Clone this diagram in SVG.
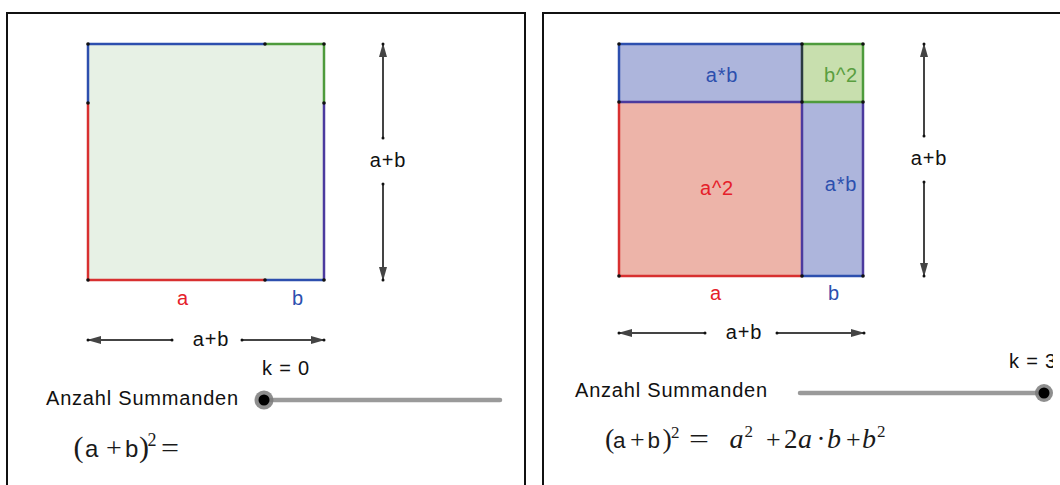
<svg xmlns="http://www.w3.org/2000/svg" width="1060" height="485" viewBox="0 0 1060 485">
  <style>
    .panel { fill: none; stroke: #111; stroke-width: 2; }
    .edge { fill: none; stroke-width: 2.5; stroke-linecap: butt; }
    .red { stroke: #d83030; }
    .blue { stroke: #2d4fae; }
    .green { stroke: #4e9b3c; }
    .purple { stroke: #4b3a9e; }
    .dark { stroke: #2a3a40; }
    .dot { fill: #111; }
    .lbl { font-family: "Liberation Sans", Arial, sans-serif; font-size: 20px; letter-spacing: 0.8px; }
    .mid { text-anchor: middle; }
    .tred { fill: #e5202a; }
    .tblue { fill: #2c4fae; }
    .tgreen { fill: #5a9e40; }
    .tblack { fill: #111; }
    .arr { stroke: #444; stroke-width: 2; fill: none; marker-end: url(#head); }
    .slider { stroke: #9a9a9a; stroke-width: 4.5; stroke-linecap: round; }
    .knobo { fill: #7a7a7a; opacity: 0.85; }
    .knobi { fill: #000; }
    .ser { font-family: "Liberation Serif", "Times New Roman", serif; fill: #1a1a1a; }
    .san { font-family: "Liberation Sans", Arial, sans-serif; fill: #1a1a1a; }
    .it { font-style: italic; }
  </style>
  <defs>
    <marker id="head" viewBox="0 0 14 8" refX="13" refY="4" markerWidth="14" markerHeight="8" markerUnits="userSpaceOnUse" orient="auto">
      <path d="M0,0 L14,4 L0,8 z" fill="#444"/>
    </marker>
    <clipPath id="clipR"><rect x="0" y="0" width="1053" height="485"/></clipPath>
  </defs>

  <rect width="1060" height="485" fill="#fff"/>

  <!-- LEFT PANEL -->
  <g id="left-panel">
    <rect class="panel" x="7" y="13" width="518" height="490"/>
  </g>
  <g id="left-square">
    <rect x="88" y="44" width="236" height="236" fill="#e7f1e5"/>
    <line class="edge blue" x1="88" y1="44" x2="265" y2="44"/>
    <line class="edge green" x1="265" y1="44" x2="324" y2="44"/>
    <line class="edge blue" x1="88" y1="44" x2="88" y2="103"/>
    <line class="edge red" x1="88" y1="103" x2="88" y2="280"/>
    <line class="edge green" x1="324" y1="44" x2="324" y2="103"/>
    <line class="edge purple" x1="324" y1="103" x2="324" y2="280"/>
    <line class="edge red" x1="88" y1="280" x2="265" y2="280"/>
    <line class="edge blue" x1="265" y1="280" x2="324" y2="280"/>
    <circle class="dot" cx="88" cy="44" r="1.8"/>
    <circle class="dot" cx="265" cy="44" r="1.8"/>
    <circle class="dot" cx="324" cy="44" r="1.8"/>
    <circle class="dot" cx="88" cy="103" r="1.8"/>
    <circle class="dot" cx="324" cy="103" r="1.8"/>
    <circle class="dot" cx="88" cy="280" r="1.8"/>
    <circle class="dot" cx="265" cy="280" r="1.8"/>
    <circle class="dot" cx="324" cy="280" r="1.8"/>
  </g>
  <g id="left-labels">
    <text class="lbl mid tred" x="183" y="305">a</text>
    <text class="lbl mid tblue" x="298" y="305">b</text>
    <text class="lbl mid tblack" x="388" y="167">a+b</text>
    <text class="lbl mid tblack" x="211" y="346">a+b</text>
    <text class="lbl mid tblack" x="286" y="375">k = 0</text>
    <text class="lbl tblack" x="46" y="405">Anzahl Summanden</text>
  </g>
  <g id="left-slider">
    <line class="slider" x1="264" y1="400" x2="500" y2="400"/>
    <circle class="knobo" cx="264" cy="400" r="9.5"/>
    <circle class="knobi" cx="264" cy="400" r="5.5"/>
  </g>
  <g id="left-formula">
    <text class="ser" x="73.5" y="457" font-size="30">(</text>
    <text class="san" x="85" y="457" font-size="24">a</text>
    <text class="ser" x="106" y="457" font-size="28">+</text>
    <text class="san" x="125" y="457" font-size="24">b</text>
    <text class="ser" x="139" y="457" font-size="30">)</text>
    <text class="ser" x="147.5" y="446" font-size="18">2</text>
    <text class="ser" x="161" y="457" font-size="28" textLength="18" lengthAdjust="spacingAndGlyphs">=</text>
  </g>

  <!-- RIGHT PANEL -->
  <g id="right-panel">
    <rect class="panel" x="543" y="13" width="530" height="490"/>
  </g>
  <g id="right-square">
    <rect x="619" y="102" width="183" height="174" fill="#edb4a9"/>
    <rect x="619" y="44" width="183" height="58" fill="#adb5dc"/>
    <rect x="802" y="44" width="61" height="58" fill="#c8dfae"/>
    <rect x="802" y="102" width="61" height="174" fill="#adb5dc"/>
    <line class="edge blue" x1="619" y1="44" x2="802" y2="44"/>
    <line class="edge green" x1="802" y1="44" x2="863" y2="44"/>
    <line class="edge blue" x1="619" y1="44" x2="619" y2="102"/>
    <line class="edge red" x1="619" y1="102" x2="619" y2="276"/>
    <line class="edge green" x1="863" y1="44" x2="863" y2="102"/>
    <line class="edge purple" x1="863" y1="102" x2="863" y2="276"/>
    <line class="edge red" x1="619" y1="276" x2="802" y2="276"/>
    <line class="edge blue" x1="802" y1="276" x2="863" y2="276"/>
    <line class="edge purple" x1="619" y1="102" x2="802" y2="102"/>
    <line class="edge green" x1="802" y1="102" x2="863" y2="102"/>
    <line class="edge dark" x1="802" y1="44" x2="802" y2="102"/>
    <line class="edge purple" x1="802" y1="102" x2="802" y2="276"/>
    <circle class="dot" cx="619" cy="44" r="1.8"/>
    <circle class="dot" cx="802" cy="44" r="1.8"/>
    <circle class="dot" cx="863" cy="44" r="1.8"/>
    <circle class="dot" cx="619" cy="102" r="1.8"/>
    <circle class="dot" cx="802" cy="102" r="1.8"/>
    <circle class="dot" cx="863" cy="102" r="1.8"/>
    <circle class="dot" cx="619" cy="276" r="1.8"/>
    <circle class="dot" cx="802" cy="276" r="1.8"/>
    <circle class="dot" cx="863" cy="276" r="1.8"/>
  </g>
  <g id="right-labels">
    <text class="lbl mid tblue" x="722" y="82">a*b</text>
    <text class="lbl mid tgreen" x="841" y="82">b^2</text>
    <text class="lbl mid tred" x="717" y="195">a^2</text>
    <text class="lbl mid tblue" x="841" y="191">a*b</text>
    <text class="lbl mid tred" x="716" y="300">a</text>
    <text class="lbl mid tblue" x="834" y="300">b</text>
    <text class="lbl mid tblack" x="929" y="165">a+b</text>
    <text class="lbl mid tblack" x="744" y="339">a+b</text>
    <text class="lbl tblack" x="1009" y="368" clip-path="url(#clipR)">k = 3</text>
    <text class="lbl tblack" x="575" y="397">Anzahl Summanden</text>
  </g>
  <g id="right-slider">
    <line class="slider" x1="800" y1="393" x2="1044" y2="393"/>
    <circle class="knobo" cx="1044" cy="393" r="9"/>
    <circle class="knobi" cx="1044" cy="393" r="5.5"/>
  </g>
  <g id="right-formula">
    <text class="ser" x="605" y="448" font-size="28">(</text>
    <text class="san" x="613" y="448" font-size="22.5">a</text>
    <text class="ser" x="630" y="448" font-size="26">+</text>
    <text class="san" x="647.5" y="448" font-size="22.5">b</text>
    <text class="ser" x="662.5" y="448" font-size="28">)</text>
    <text class="ser" x="671" y="438" font-size="17">2</text>
    <text class="ser" x="689" y="448" font-size="27" textLength="20" lengthAdjust="spacingAndGlyphs">=</text>
    <text class="ser it" x="729.5" y="448" font-size="28">a</text>
    <text class="ser" x="744.5" y="437" font-size="17">2</text>
    <text class="ser" x="766" y="448" font-size="26">+</text>
    <text class="ser" x="784" y="448" font-size="27">2</text>
    <text class="ser it" x="798" y="448" font-size="28">a</text>
    <text class="ser" x="816.5" y="448" font-size="27">·</text>
    <text class="ser it" x="827" y="448" font-size="28">b</text>
    <text class="ser" x="846" y="448" font-size="26">+</text>
    <text class="ser it" x="862" y="448" font-size="28">b</text>
    <text class="ser" x="877" y="437" font-size="17">2</text>
  </g>

  <!-- CONNECTORS (dimension arrows) -->
  <g id="connectors">
    <line class="arr" x1="383" y1="138" x2="383" y2="44"/>
    <line class="arr" x1="383" y1="184" x2="383" y2="280"/>
    <line class="arr" x1="172" y1="340" x2="88" y2="340"/>
    <line class="arr" x1="242" y1="340" x2="324" y2="340"/>
    <line class="arr" x1="924" y1="136" x2="924" y2="44"/>
    <line class="arr" x1="924" y1="182" x2="924" y2="276"/>
    <line class="arr" x1="705" y1="333" x2="619" y2="333"/>
    <line class="arr" x1="777" y1="333" x2="864" y2="333"/>
    <circle class="dot" cx="383" cy="138" r="1.5"/>
    <circle class="dot" cx="383" cy="184" r="1.5"/>
    <circle class="dot" cx="383" cy="44" r="1.5"/>
    <circle class="dot" cx="383" cy="280" r="1.5"/>
    <circle class="dot" cx="172" cy="340" r="1.5"/>
    <circle class="dot" cx="242" cy="340" r="1.5"/>
    <circle class="dot" cx="88" cy="340" r="1.5"/>
    <circle class="dot" cx="324" cy="340" r="1.5"/>
    <circle class="dot" cx="924" cy="136" r="1.5"/>
    <circle class="dot" cx="924" cy="182" r="1.5"/>
    <circle class="dot" cx="924" cy="44" r="1.5"/>
    <circle class="dot" cx="924" cy="276" r="1.5"/>
    <circle class="dot" cx="705" cy="333" r="1.5"/>
    <circle class="dot" cx="777" cy="333" r="1.5"/>
    <circle class="dot" cx="619" cy="333" r="1.5"/>
    <circle class="dot" cx="864" cy="333" r="1.5"/>
  </g>
</svg>
